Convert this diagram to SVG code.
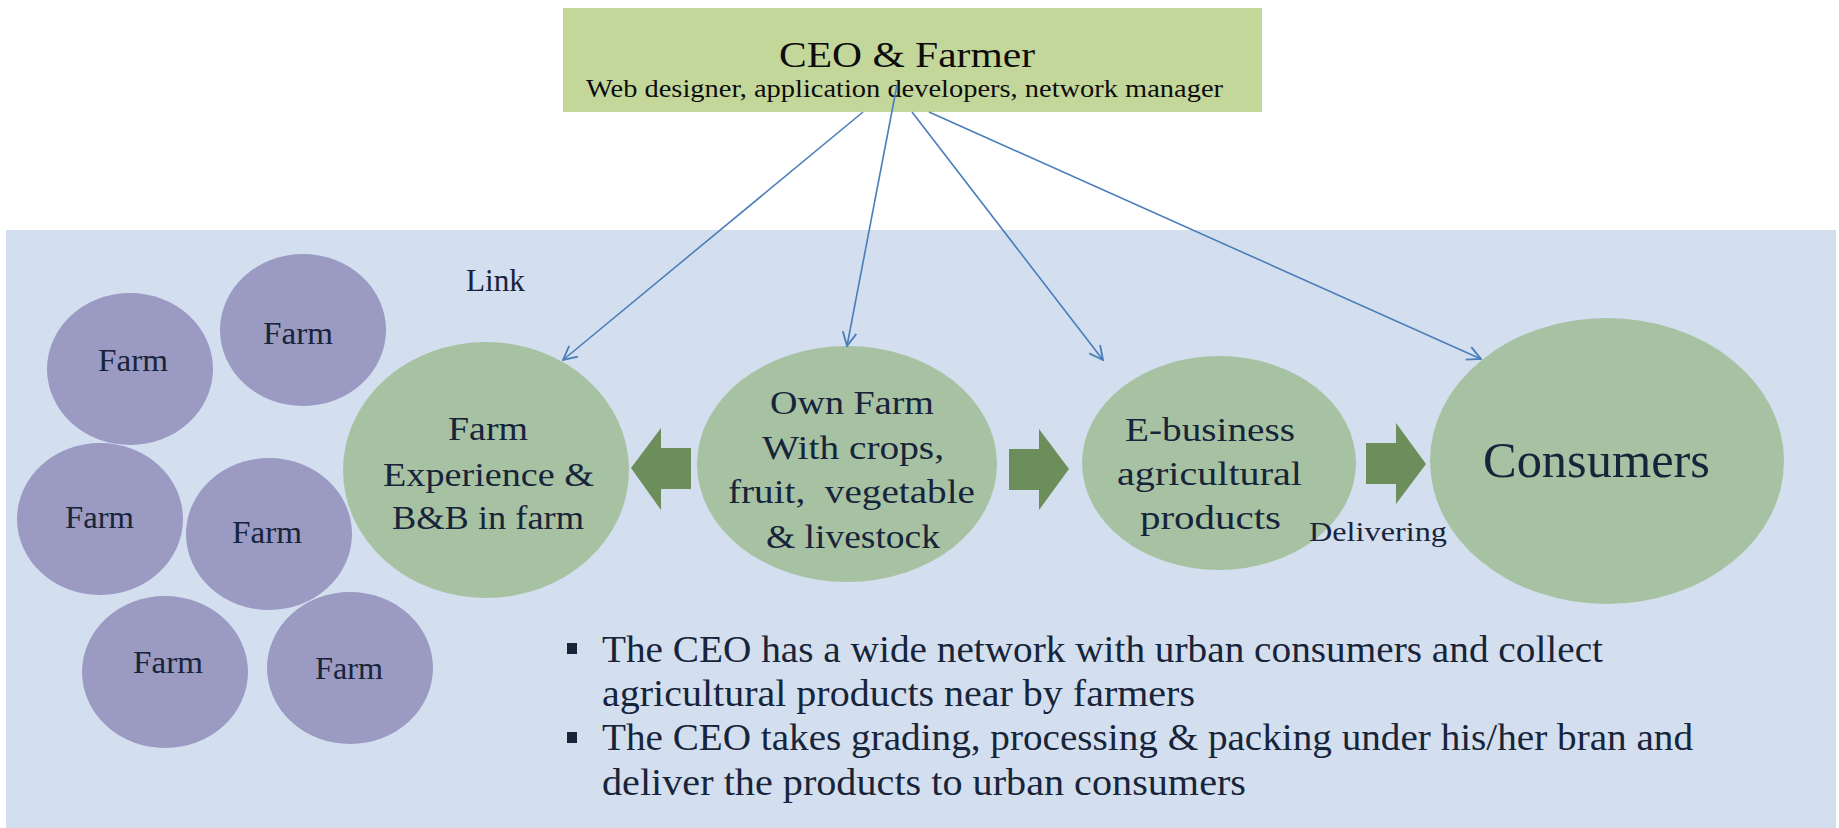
<svg xmlns="http://www.w3.org/2000/svg" width="1839" height="828" viewBox="0 0 1839 828">
<style>
text{font-family:"Liberation Serif","Times New Roman",serif;fill:#17243a}
.farm{fill:#9a9ac3}
.green{fill:#a7c2a3}
.blk{fill:#6b8e5a}
.conn{stroke:#4a7ebb;stroke-width:1.6;fill:none;marker-end:url(#arr)}
.ft{font-size:31px;text-anchor:start}
.gt{font-size:34px}
.bt{font-size:38px}
.ceo text{fill:#0d0d0d}
</style>
<defs>
<marker id="arr" viewBox="0 0 14 14" refX="13" refY="7" markerWidth="16" markerHeight="16" markerUnits="userSpaceOnUse" orient="auto">
<path d="M1,1 L13,7 L1,13" fill="none" stroke="#4a7ebb" stroke-width="1.6"/>
</marker>
</defs>
<rect x="0" y="0" width="1839" height="828" fill="#ffffff"/>
<rect id="background" x="6" y="230" width="1830" height="598" fill="#d3dfee"/>

<g id="ceo" class="ceo">
<rect x="563" y="8" width="699" height="104" fill="#c4d79b"/>
<text x="779" y="67" font-size="36" textLength="256" lengthAdjust="spacingAndGlyphs">CEO &amp; Farmer</text>
<text x="586" y="97" font-size="25" textLength="637" lengthAdjust="spacingAndGlyphs">Web designer, application developers, network manager</text>
</g>

<g id="farm1"><ellipse class="farm" cx="130" cy="369" rx="83" ry="76"/><text class="ft" x="98" y="371" textLength="70" lengthAdjust="spacingAndGlyphs">Farm</text></g>
<g id="farm2"><ellipse class="farm" cx="303" cy="330" rx="83" ry="76"/><text class="ft" x="263" y="344" textLength="70" lengthAdjust="spacingAndGlyphs">Farm</text></g>
<g id="farm3"><ellipse class="farm" cx="100" cy="519" rx="83" ry="76"/><text class="ft" x="65" y="528" textLength="69" lengthAdjust="spacingAndGlyphs">Farm</text></g>
<g id="farm4"><ellipse class="farm" cx="269" cy="534" rx="83" ry="76"/><text class="ft" x="232" y="543" textLength="70" lengthAdjust="spacingAndGlyphs">Farm</text></g>
<g id="farm5"><ellipse class="farm" cx="165" cy="672" rx="83" ry="76"/><text class="ft" x="133" y="673" textLength="70" lengthAdjust="spacingAndGlyphs">Farm</text></g>
<g id="farm6"><ellipse class="farm" cx="350" cy="668" rx="83" ry="76"/><text class="ft" x="315" y="679" textLength="68" lengthAdjust="spacingAndGlyphs">Farm</text></g>

<g id="link-label"><text x="466" y="291" font-size="31" textLength="59" lengthAdjust="spacingAndGlyphs">Link</text></g>

<g id="farm-experience">
<ellipse class="green" cx="486" cy="470" rx="143" ry="128"/>
<text class="gt" x="448" y="440" textLength="80" lengthAdjust="spacingAndGlyphs">Farm</text>
<text class="gt" x="383" y="486" textLength="211" lengthAdjust="spacingAndGlyphs">Experience &amp;</text>
<text class="gt" x="392" y="529" textLength="192" lengthAdjust="spacingAndGlyphs">B&amp;B in farm</text>
</g>

<g id="own-farm">
<ellipse class="green" cx="847" cy="464" rx="150" ry="118"/>
<text class="gt" x="770" y="414" textLength="164" lengthAdjust="spacingAndGlyphs">Own Farm</text>
<text class="gt" x="762" y="459" textLength="182" lengthAdjust="spacingAndGlyphs">With crops,</text>
<text class="gt" x="728" y="503" textLength="247" lengthAdjust="spacingAndGlyphs" xml:space="preserve">fruit,  vegetable</text>
<text class="gt" x="766" y="548" textLength="174" lengthAdjust="spacingAndGlyphs">&amp; livestock</text>
</g>

<g id="ebusiness">
<ellipse class="green" cx="1219" cy="463" rx="137" ry="107"/>
<text class="gt" x="1125" y="441" textLength="170" lengthAdjust="spacingAndGlyphs">E-business</text>
<text class="gt" x="1117" y="485" textLength="185" lengthAdjust="spacingAndGlyphs">agricultural</text>
<text class="gt" x="1140" y="529" textLength="141" lengthAdjust="spacingAndGlyphs">products</text>
</g>

<g id="delivering-label"><text x="1309" y="541" font-size="28" textLength="138" lengthAdjust="spacingAndGlyphs">Delivering</text></g>

<g id="consumers">
<ellipse class="green" cx="1607" cy="461" rx="177" ry="143"/>
<text x="1483" y="477" font-size="50" textLength="227" lengthAdjust="spacingAndGlyphs">Consumers</text>
</g>

<g id="block-arrows">
<polygon class="blk" points="691,448 661,448 661,428 631,468 661,510 661,489 691,489"/>
<polygon class="blk" points="1009,449 1039,449 1039,429 1069,469 1039,510 1039,490 1009,490"/>
<polygon class="blk" points="1366,443 1396,443 1396,423 1426,464 1396,504 1396,484 1366,484"/>
</g>

<g id="connectors">
<line class="conn" x1="863" y1="112" x2="563" y2="360"/>
<line class="conn" x1="897" y1="85" x2="847" y2="346"/>
<line class="conn" x1="912" y1="112" x2="1103" y2="360"/>
<line class="conn" x1="929" y1="112" x2="1481" y2="359"/>
</g>

<g id="notes">
<rect x="567" y="643" width="10" height="11" fill="#17243a"/>
<rect x="567" y="732" width="10" height="11" fill="#17243a"/>
<text class="bt" x="602" y="662" textLength="1001" lengthAdjust="spacingAndGlyphs">The CEO has a wide network with urban consumers and collect</text>
<text class="bt" x="602" y="706" textLength="593" lengthAdjust="spacingAndGlyphs">agricultural products near by farmers</text>
<text class="bt" x="602" y="750" textLength="1091" lengthAdjust="spacingAndGlyphs">The CEO takes grading, processing &amp; packing under his/her bran and</text>
<text class="bt" x="602" y="795" textLength="644" lengthAdjust="spacingAndGlyphs">deliver the products to urban consumers</text>
</g>
</svg>
